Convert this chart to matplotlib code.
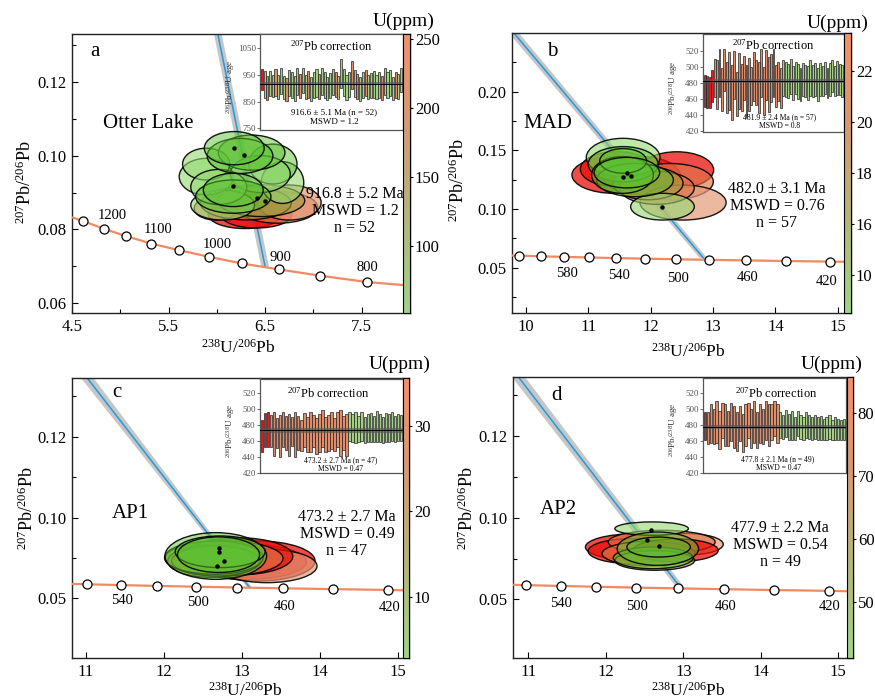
import numpy as np
import matplotlib
matplotlib.use("Agg")
import matplotlib.pyplot as plt
from matplotlib.patches import Ellipse, Polygon
from matplotlib.colors import LinearSegmentedColormap, Normalize, to_rgba
from matplotlib.cm import ScalarMappable

plt.rcParams['font.family'] = ['Liberation Serif', 'DejaVu Serif']
plt.rcParams['mathtext.fontset'] = 'custom'
plt.rcParams['mathtext.rm'] = 'Liberation Serif'
plt.rcParams['mathtext.it'] = 'Liberation Serif:italic'
plt.rcParams['mathtext.bf'] = 'Liberation Serif:bold'

W, H = 875, 700

# ---------------- panel a : Otter Lake ----------------
a_conc_x = [4.61, 4.83, 5.06, 5.32, 5.61, 5.92, 6.26, 6.64, 7.07, 7.55]
a_conc_y = [0.0823, 0.0802, 0.0782, 0.0762, 0.0744, 0.0726, 0.0708, 0.0692, 0.0675, 0.0658]
a_edge_x = [4.50, 8.00]
a_edge_y = [0.0833, 0.0648]
a_conc_lab = ['1200', '1100', '1000', '900', '800']
a_lab_idx = [1, 3, 5, 7, 9]
a_disc_x = [6.01, 6.50]
a_disc_y = [0.1329, 0.0699]

a_ell_x = [6.29, 6.41, 6.63, 6.75, 5.99, 6.30, 6.46, 6.06, 6.68, 5.89, 5.89, 6.58, 6.45, 6.02,
           6.36, 6.24, 6.18, 6.17, 6.17]
a_ell_y = [0.0841, 0.0839, 0.0860, 0.0873, 0.0857, 0.0871, 0.0878, 0.0866, 0.0927, 0.0943, 0.0977,
           0.0977, 0.0950, 0.0915, 0.1008, 0.0999, 0.1020, 0.0889, 0.0907]
a_ell_w = [0.76, 0.73, 0.83, 0.66, 0.45, 0.94, 0.90, 0.66, 0.44, 0.56, 0.49, 0.50, 0.62, 0.58,
           0.69, 0.68, 0.62, 0.78, 0.62]
a_ell_h = [0.0077, 0.0070, 0.0086, 0.0095, 0.0063, 0.0090, 0.0086, 0.0081, 0.0113, 0.0099, 0.0086,
           0.0108, 0.0100, 0.0095, 0.0095, 0.0095, 0.0090, 0.0090, 0.0090]
a_ell_c = ['r', 'r', 'o', 's', 'o', 'b', 'b', 'l', 'l', 'l', 'l', 'g', 'l', 'l',
           'g', 'g', 'g', 'g', 'g']
a_dot_x = [6.18, 6.28, 6.17, 6.50, 6.42]
a_dot_y = [0.1020, 0.1001, 0.0919, 0.0876, 0.0885]

a_bar_age = [933, 915, 900, 918, 908, 922, 905, 928, 903, 896, 920, 912, 900, 925, 908, 930, 905, 915,
             898, 912, 920, 906, 926, 913, 899, 910, 924, 914, 902, 955, 922, 903, 915, 950, 918, 906,
             897, 912, 920, 905, 910, 915, 904, 912, 901, 926, 912, 920, 899, 913, 907, 930]
a_bar_err = [38, 50, 45, 48, 40, 52, 46, 50, 44, 42, 48, 50, 46, 52, 44, 48, 46, 50, 44, 48, 52, 46,
             50, 48, 44, 46, 50, 48, 44, 55, 50, 46, 48, 52, 50, 46, 44, 48, 50, 46, 48, 50, 44, 48,
             46, 52, 48, 50, 44, 48, 46, 45]
a_bar_col = "rgoggogggo" "ggggoggogg" "gogggggogg" "gggogoggog" "ggggoggggo" "gg"

# ---------------- panel b : MAD ----------------
b_conc_x = [9.90, 10.25, 10.62, 11.02, 11.45, 11.91, 12.40, 12.94, 13.53, 14.17, 14.87]
b_conc_y = [0.0603, 0.0597, 0.0592, 0.0587, 0.0582, 0.0577, 0.0572, 0.0567, 0.0562, 0.0557, 0.0552]
b_edge_x = [9.78, 15.21]
b_edge_y = [0.0605, 0.0550]
b_conc_lab = ['580', '540', '500', '460', '420']
b_lab_idx = [2, 4, 6, 8, 10]
b_disc_x = [9.81, 12.85]
b_disc_y = [0.2500, 0.0580]

b_ell_x = [11.42, 11.46, 11.86, 12.42, 12.31, 12.52, 12.10, 11.96, 12.19, 11.56, 11.56, 11.75, 11.55, 11.56, 11.62]
b_ell_y = [0.1290, 0.1340, 0.1283, 0.1333, 0.1233, 0.1055, 0.1180, 0.1219, 0.1020, 0.1439, 0.1382,
           0.1247, 0.1290, 0.1410, 0.1310]
b_ell_w = [1.36, 1.17, 1.23, 1.18, 1.39, 1.38, 1.20, 1.12, 1.02, 1.18, 1.12, 1.23, 0.99, 0.75, 1.05]
b_ell_h = [0.0313, 0.0300, 0.0327, 0.0310, 0.0310, 0.0298, 0.0280, 0.0280, 0.0228, 0.0327, 0.0300,
           0.0284, 0.0313, 0.0210, 0.0260]
b_ell_c = ['r', 'r', 'r', 'r', 'o', 's', 'o', 'b', 'l', 'l', 'g', 'g', 'g', 'g', 'g']
b_dot_x = [11.55, 11.63, 11.69, 12.19]
b_dot_y = [0.1270, 0.1304, 0.1280, 0.1020]

b_bar_age = [470, 469, 468, 476,
             486, 478, 492, 472, 496, 474, 482, 468, 490, 466, 482, 474, 486, 470, 478, 476, 488, 480,
             474, 492, 470, 490, 478, 486, 492, 476, 482, 474,
             486, 484, 482, 488, 480, 486, 482, 478, 484, 482, 480, 486, 482, 484, 478, 484, 482, 486,
             480, 484, 488, 482, 486, 484, 482]
b_bar_err = [20, 20, 19, 20,
             24, 30, 30, 27, 26, 32, 36, 34, 30, 27, 35, 29, 27, 32, 33, 24, 30, 28, 32, 30, 30, 31,
             34, 30, 30, 26, 24, 25,
             22, 22, 21, 22, 21, 20, 22, 21, 21, 20, 21, 22, 20, 21, 20, 21, 19, 20, 19, 21, 20, 19,
             21, 19, 20]
b_bar_col = "rrrr" + "o" * 28 + "g" * 25

# ---------------- panel c : AP1 ----------------
c_conc_x = [11.02, 11.45, 11.91, 12.41, 12.94, 13.53, 14.17, 14.87]
c_conc_y = [0.0587, 0.0582, 0.0577, 0.0572, 0.0567, 0.0562, 0.0557, 0.0552]
c_edge_x = [10.82, 15.14]
c_edge_y = [0.0589, 0.0549]
c_conc_lab = ['540', '500', '460', '420']
c_lab_idx = [1, 3, 5, 7]
c_disc_x = [11.02, 13.10]
c_disc_y = [0.1863, 0.0566]

c_ell_x = [13.06, 13.20, 13.32, 12.95, 12.77, 12.60, 12.665, 12.64, 12.665, 12.72, 12.70]
c_ell_y = [0.0726, 0.0731, 0.0700, 0.0760, 0.0747, 0.0730, 0.0731, 0.0752, 0.0762, 0.0788, 0.0770]
c_ell_w = [1.53, 1.47, 1.28, 1.40, 1.51, 1.10, 1.13, 1.26, 1.30, 1.15, 1.05]
c_ell_h = [0.0217, 0.0248, 0.0206, 0.0230, 0.0217, 0.0200, 0.0186, 0.0206, 0.0289, 0.0196, 0.0220]
c_ell_c = ['r', 'r', 's', 'r', 'o', 'o', 'b', 'g', 'g', 'g', 'g']
c_dot_x = [12.70, 12.77, 12.70, 12.68]
c_dot_y = [0.0787, 0.0731, 0.0814, 0.0700]

c_bar_age = [466, 474, 474,
             472, 469, 470, 466, 474, 470, 468, 472, 468, 470, 467, 474, 468, 471, 472, 466, 470,
             475, 468, 470, 473, 468, 474, 470, 470, 468,
             478, 476, 477, 475, 478, 474, 476, 477, 475, 478, 476, 474, 477, 476, 478, 475, 477, 476]
c_bar_err = [20, 21, 22,
             20, 27, 19, 26, 22, 21, 26, 18, 28, 21, 19, 21, 22, 25, 20, 22, 24, 23, 22, 22, 23, 20,
             22, 28, 21, 26,
             18, 17, 19, 16, 18, 16, 17, 18, 16, 19, 17, 16, 18, 17, 18, 16, 17, 16]
c_bar_col = "rrr" + "o" * 26 + "g" * 18

# ---------------- panel d : AP2 ----------------
d_conc_x = [10.97, 11.42, 11.87, 12.39, 12.93, 13.53, 14.17, 14.88]
d_conc_y = [0.0587, 0.0582, 0.0577, 0.0572, 0.0567, 0.0562, 0.0557, 0.0552]
d_edge_x = [10.80, 15.19]
d_edge_y = [0.0589, 0.0549]
d_conc_lab = ['540', '500', '460', '420']
d_lab_idx = [1, 3, 5, 7]
d_disc_x = [10.87, 12.96]
d_disc_y = [0.1861, 0.0574]

d_ell_x = [12.38, 12.33, 13.03, 12.72, 12.55, 12.90, 12.59, 12.63, 12.61, 12.67, 12.68]
d_ell_y = [0.0820, 0.0795, 0.0837, 0.0851, 0.0780, 0.0800, 0.0933, 0.0738, 0.0754, 0.0810, 0.0820]
d_ell_w = [1.29, 1.12, 0.97, 1.38, 1.20, 1.10, 0.95, 1.03, 1.03, 1.05, 0.82]
d_ell_h = [0.0163, 0.0153, 0.0133, 0.0143, 0.0150, 0.0140, 0.0082, 0.0120, 0.0133, 0.0204, 0.0122]
d_ell_c = ['r', 'r', 's', 'o', 'o', 'r', 'l', 'b', 'g', 'g', 'g']
d_dot_x = [12.58, 12.53, 12.69]
d_dot_y = [0.0922, 0.0861, 0.0824]

d_bar_age = [479,
             476, 482, 478, 484, 474, 486, 480, 476, 484, 478, 472, 482, 470, 480, 486, 476, 484, 474,
             482, 478, 486, 480, 484, 488, 482,
             480, 478, 482, 478, 480, 476, 482, 478, 476, 480, 478, 476, 478, 476, 477, 475, 476, 478,
             474, 476, 475, 474, 475]
d_bar_err = [17,
             20, 24, 22, 26, 24, 22, 26, 22, 24, 26, 24, 22, 24, 26, 22, 24, 26, 22, 24, 22, 24, 26,
             22, 22, 24,
             16, 15, 17, 16, 18, 14, 16, 15, 14, 16, 15, 14, 15, 14, 15, 13, 14, 15, 13, 14, 13, 12, 13]
d_bar_col = "r" + "o" * 25 + "g" * 23

# fill colour and opacity of the ellipse groups
ELL_COL = {'r': ('#e8100a', 0.75), 'o': ('#e07448', 0.65), 's': ('#e39a78', 0.7),
           'b': ('#a09a3c', 0.6), 'g': ('#5cc232', 0.5), 'l': ('#94d870', 0.6)}
BAR_COL = {'r': '#e31b1b', 'o': '#e08c68', 'g': '#a3cf83'}
CB_CMAP = LinearSegmentedColormap.from_list('uppm', ['#9fd38a', '#b4b57a', '#d49a74', '#f58f6c'])

fig = plt.figure(figsize=(8.75, 7), dpi=100)


def px_rect(l, t, r, b):
    return [l / W, 1 - b / H, (r - l) / W, (b - t) / H]


def ftext(px, py, s, **kw):
    fig.text(px / W, 1 - py / H, s, **kw)


def main_axes(box, xlim, ylim, xt, xminor, yt, ylab, yminor):
    ax = fig.add_axes(px_rect(*box))
    ax.set_xlim(xlim)
    ax.set_ylim(ylim)
    ax.set_xticks(xt)
    ax.set_xticklabels([str(v) for v in xt])
    ax.set_xticks(xminor, minor=True)
    ax.set_yticks(yt)
    ax.set_yticklabels(ylab)
    ax.set_yticks(yminor, minor=True)
    ax.tick_params(direction='in', length=4, width=0.8, labelsize=12)
    ax.tick_params(axis='x', pad=4)
    ax.tick_params(axis='y', pad=4)
    ax.tick_params(which='minor', direction='in', length=3, width=0.8)
    for s in ax.spines.values():
        s.set_linewidth(1.0)
        s.set_color('#222222')
    return ax


def concordia(ax, mx, my, ex, ey, idx, labs, offs):
    cx = [ex[0]] + mx + [ex[1]]
    cy = [ey[0]] + my + [ey[1]]
    ax.plot(cx, cy, color='#f08a62', lw=1.6, zorder=4, solid_capstyle='butt')
    ax.plot(mx, my, 'o', ms=6.5, mfc='white', mec='black', mew=0.9, zorder=5)
    for i, t, (dx, dy) in zip(idx, labs, offs):
        ax.annotate(t, (mx[i], my[i]), xytext=(dx, dy), textcoords='offset pixels',
                    ha='center', va='center', fontsize=10.5, zorder=6)


def discordia(ax, dx, dy, band):
    pts = [(dx[0] - band[0], dy[0]), (dx[0] + band[0], dy[0]),
           (dx[1] + band[1], dy[1]), (dx[1] - band[1], dy[1])]
    ax.add_patch(Polygon(pts, closed=True, fc='#c6c6c6', ec='none', zorder=2))
    ax.plot(dx, dy, color='#1f9be0', lw=1.1, zorder=2.5)


def ellipses(ax, xs, ys, ws, hs, cs, dx, dy):
    for x, y, w, h, c in zip(xs, ys, ws, hs, cs):
        col, alp = ELL_COL[c]
        ax.add_patch(Ellipse((x, y), w, h, fc=to_rgba(col, alp),
                             ec=(0, 0, 0, 0.9), lw=1.0, zorder=3))
    ax.plot(dx, dy, 'o', ms=2.2, color='black', zorder=3.5)


def inset(box, ages, errs, cols, ylim, yt, mean, merr, t1, t2, fs, ty, sx, sy):
    ins = fig.add_axes(px_rect(*box), zorder=10)
    ages = np.array(ages, dtype=float)
    errs = np.array(errs, dtype=float)
    n = len(ages)
    ins.bar(np.arange(n), 2 * errs, bottom=ages - errs, width=0.78,
            color=[BAR_COL[c] for c in cols], edgecolor='#222222', linewidth=0.5, zorder=2)
    ins.axhspan(mean - merr, mean + merr, color='#555555', alpha=0.6, lw=0, zorder=3)
    ins.axhline(mean, color='black', lw=0.7, zorder=4)
    ins.set_xlim(-0.7, n - 0.3)
    ins.set_ylim(ylim)
    ins.set_xticks([])
    ins.set_yticks(yt)
    ins.tick_params(axis='y', labelsize=6.5, length=2, width=0.6, pad=1, colors='#555555')
    for s in ins.spines.values():
        s.set_linewidth(0.9)
        s.set_color('#555555')
    ins.set_ylabel(r'$^{206}$Pb/$^{238}$U age', fontsize=6.5, color='#333333')
    ins.yaxis.set_label_coords(-0.16, 0.45)
    ins.text(ty[0], ty[1], r'$^{207}$Pb correction', transform=ins.transAxes,
             ha='center', va='center', fontsize=9, zorder=5)
    ins.text(sx, sy[0], t1, transform=ins.transAxes, ha='center', va='center', fontsize=fs, zorder=5)
    ins.text(sx, sy[1], t2, transform=ins.transAxes, ha='center', va='center', fontsize=fs, zorder=5)


def colorbar(box, lo, hi, ticks, labels):
    cax = fig.add_axes(px_rect(*box), zorder=11)
    cb = fig.colorbar(ScalarMappable(norm=Normalize(lo, hi), cmap=CB_CMAP), cax=cax)
    cb.set_ticks(ticks)
    cb.set_ticklabels(labels)
    cax.tick_params(labelsize=12, length=2.5, width=0.8, pad=1)
    cb.outline.set_linewidth(0.8)


# ---- panel a ----
ax = main_axes((72, 34, 410, 313), (4.5, 8.0), (0.0574, 0.1329),
               [4.5, 5.5, 6.5, 7.5], [5.0, 6.0, 7.0, 8.0],
               [0.06, 0.08, 0.10, 0.12], ['0.06', '0.08', '0.10', '0.12'], [0.07, 0.09, 0.11, 0.13])
discordia(ax, a_disc_x, a_disc_y, [0.04, 0.04])
ellipses(ax, a_ell_x, a_ell_y, a_ell_w, a_ell_h, a_ell_c, a_dot_x, a_dot_y)
concordia(ax, a_conc_x, a_conc_y, a_edge_x, a_edge_y, a_lab_idx, a_conc_lab,
          [(8, 13), (7, 14), (8, 12), (2, 12), (1, 14)])
inset((260, 34, 403, 129.5), a_bar_age, a_bar_err, a_bar_col, (745, 1104), [750, 850, 950, 1050],
      916.6, 5.1, '916.6 ± 5.1 Ma (n = 52)', 'MSWD = 1.2', 6.5, (0.50, 0.87), 0.52, (0.18, 0.08))
colorbar((403, 34, 410, 313), 51, 254, [100, 150, 200, 250], ['100', '150', '200', '250'])

# ---- panel b ----
ax = main_axes((512, 33, 851, 313), (9.78, 15.21), (0.0114, 0.2500),
               [10, 11, 12, 13, 14, 15], [],
               [0.05, 0.10, 0.15, 0.20], ['0.05', '0.10', '0.15', '0.20'], [0.025, 0.075, 0.125, 0.175, 0.225])
discordia(ax, b_disc_x, b_disc_y, [0.08, 0.06])
ellipses(ax, b_ell_x, b_ell_y, b_ell_w, b_ell_h, b_ell_c, b_dot_x, b_dot_y)
concordia(ax, b_conc_x, b_conc_y, b_edge_x, b_edge_y, b_lab_idx, b_conc_lab,
          [(3, -17), (3, -17), (2, -19), (2, -17), (-3, -20)])
inset((703, 34, 844, 132), b_bar_age, b_bar_err, b_bar_col, (418.8, 540.8), [420, 440, 460, 480, 500, 520],
      481.9, 2.4, '481.9 ± 2.4 Ma (n = 57)', 'MSWD = 0.8', 5.5, (0.50, 0.88), 0.54, (0.15, 0.065))
colorbar((844, 33, 851, 313), 12.5, 23.5, [14, 16, 18, 20, 22], ['10', '16', '18', '20', '22'])

# ---- panel c ----
ax = main_axes((72, 378, 409, 658), (10.825, 15.137), (0.0131, 0.1863),
               [11, 12, 13, 14, 15], [],
               [0.05, 0.10, 0.15], ['0.05', '0.10', '0.12'], [0.075, 0.125, 0.175])
discordia(ax, c_disc_x, c_disc_y, [0.08, 0.03])
ellipses(ax, c_ell_x, c_ell_y, c_ell_w, c_ell_h, c_ell_c, c_dot_x, c_dot_y)
concordia(ax, c_conc_x, c_conc_y, c_edge_x, c_edge_y, c_lab_idx, c_conc_lab,
          [(1, -15), (2, -16), (1, -18), (1, -18)])
inset((260, 378.5, 403, 473.3), c_bar_age, c_bar_err, c_bar_col, (420, 537.5), [420, 440, 460, 480, 500, 520],
      473.2, 2.7, '473.2 ± 2.7 Ma (n = 47)', 'MSWD = 0.47', 5.5, (0.476, 0.84), 0.565, (0.14, 0.05))
colorbar((403, 378, 409, 658), 2.8, 35.6, [10, 20, 30], ['10', '20', '30'])

# ---- panel d ----
ax = main_axes((513, 377, 853, 658), (10.80, 15.19), (0.0141, 0.1861),
               [11, 12, 13, 14, 15], [],
               [0.05, 0.10, 0.15], ['0.05', '0.10', '0.12'], [0.075, 0.125, 0.175])
discordia(ax, d_disc_x, d_disc_y, [0.085, 0.05])
ellipses(ax, d_ell_x, d_ell_y, d_ell_w, d_ell_h, d_ell_c, d_dot_x, d_dot_y)
concordia(ax, d_conc_x, d_conc_y, d_edge_x, d_edge_y, d_lab_idx, d_conc_lab,
          [(0, -18), (1, -19), (1, -17), (1, -16)])
inset((703, 377.5, 846, 473.3), d_bar_age, d_bar_err, d_bar_col, (420, 539.7), [420, 440, 460, 480, 500, 520],
      477.8, 2.1, '477.8 ± 2.1 Ma (n = 49)', 'MSWD = 0.47', 5.5, (0.51, 0.84), 0.525, (0.146, 0.058))
colorbar((847, 377, 853, 658), 41.1, 85.7, [50, 60, 70, 80], ['50', '60', '70', '80'])

# ---- free text ----
ylab = r'$^{207}$Pb/$^{206}$Pb'
xlab = r'$^{238}$U/$^{206}$Pb'
for (x, y) in [(25, 182), (458, 180), (27, 508), (467, 508)]:
    ftext(x, y, ylab, rotation=90, ha='center', va='center', fontsize=13)
for (x, y) in [(238, 348), (688, 352), (245, 691), (688, 691)]:
    ftext(x, y, xlab, ha='center', va='center', fontsize=12.5)

for (x, y, s) in [(95, 52, 'a'), (552, 52, 'b'), (117, 392, 'c'), (557, 395, 'd')]:
    ftext(x, y, s, ha='center', va='center', fontsize=15)
for (x, y, s) in [(103, 123, 'Otter Lake'), (523, 123, 'MAD'), (112, 514, 'AP1'), (540, 509, 'AP2')]:
    ftext(x, y, s, ha='left', va='center', fontsize=15)

stats = [(355, 211, '916.8 ± 5.2 Ma\nMSWD = 1.2\nn = 52'),
         (777, 206, '482.0 ± 3.1 Ma\nMSWD = 0.76\nn = 57'),
         (347, 534, '473.2 ± 2.7 Ma\nMSWD = 0.49\nn = 47'),
         (780, 545, '477.9 ± 2.2 Ma\nMSWD = 0.54\nn = 49')]
for (x, y, s) in stats:
    ftext(x, y, s, ha='center', va='center', fontsize=11.5, linespacing=1.1)

for (x, y) in [(404, 21), (838, 23), (400, 364), (832, 364)]:
    ftext(x, y, 'U(ppm)', ha='center', va='center', fontsize=14)

fig.savefig('out.png', dpi=100)
